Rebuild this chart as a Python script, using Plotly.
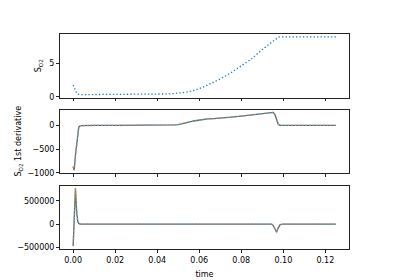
import plotly.graph_objects as go

# ---- data ----
time = [0.0, 0.0005, 0.0011, 0.0017, 0.0022, 0.0027, 0.0035, 0.005, 0.01, 0.02,
        0.03, 0.04, 0.045, 0.048, 0.05, 0.052, 0.054, 0.056, 0.058, 0.06,
        0.062, 0.064, 0.067, 0.07, 0.075,
        0.08, 0.085, 0.09, 0.0945, 0.0952, 0.096, 0.0968, 0.0976, 0.0984,
        0.0995, 0.105, 0.115, 0.125]

s_o2 = [1.75, 1.3, 0.8, 0.5, 0.37, 0.33, 0.32, 0.32, 0.32, 0.32,
        0.33, 0.37, 0.42, 0.48, 0.53, 0.6, 0.7, 0.83, 1.0, 1.22,
        1.48, 1.76, 2.2, 2.7, 3.6,
        4.65, 5.75, 7.15, 8.3, 8.5, 8.72, 8.9, 9.0, 9.05,
        9.05, 9.05, 9.05, 9.05]

ds_o2 = [-870, -945, -630, -400, -190, -30, -3, 0, 0, 0,
         1, 3, 6, 12, 20, 35, 55, 80, 100, 118,
         130, 138, 147, 155, 175,
         198, 220, 248, 272, 277, 230, 110, 25, 3,
         0, 0, 0, 0]

d2s_o2 = [-470000, 150000, 765000, 250000, 60000, 12000, 2000, 0, 0, 0,
          0, 200, 500, 3000, 6000, 8000, 10000, 10000, 9000, 7000,
          5000, 4000, 3500, 3500, 4000,
          4500, 5000, 5500, 2000, -30000, -110000, -171000, -80000, -15000,
          0, 0, 0, 0]

x_ticks = [0.0, 0.02, 0.04, 0.06, 0.08, 0.10, 0.12]
x_tick_labels = ["0.00", "0.02", "0.04", "0.06", "0.08", "0.10", "0.12"]

BLUE = "#1f77b4"
ORANGE = "#ff7f0e"
DOT = "1.3px,2.2px"


def pad_range(vals, frac=0.05):
    lo, hi = min(vals), max(vals)
    span = hi - lo
    return [lo - frac * span, hi + frac * span]


fig = go.Figure()

# panel 1
fig.add_trace(go.Scatter(x=time, y=s_o2, mode="lines",
                         line=dict(color=BLUE, width=1.3, dash=DOT),
                         xaxis="x", yaxis="y", showlegend=False))
# panel 2
fig.add_trace(go.Scatter(x=time, y=ds_o2, mode="lines",
                         line=dict(color=BLUE, width=1.3),
                         xaxis="x2", yaxis="y2", showlegend=False))
fig.add_trace(go.Scatter(x=time, y=ds_o2, mode="lines",
                         line=dict(color=ORANGE, width=1.3, dash=DOT),
                         xaxis="x2", yaxis="y2", showlegend=False))
# panel 3
fig.add_trace(go.Scatter(x=time, y=d2s_o2, mode="lines",
                         line=dict(color=BLUE, width=1.3),
                         xaxis="x3", yaxis="y3", showlegend=False))
fig.add_trace(go.Scatter(x=time, y=d2s_o2, mode="lines",
                         line=dict(color=ORANGE, width=1.3, dash=DOT),
                         xaxis="x3", yaxis="y3", showlegend=False))

xr = pad_range(time)
font = dict(family="DejaVu Sans", size=8, color="black")

axis_common = dict(showline=True, mirror=True, linecolor="#222", linewidth=0.9,
                   ticks="outside", ticklen=3, tickwidth=0.8, tickcolor="#222",
                   showgrid=False, zeroline=False, tickfont=font)

H = 215.0
h = 63.5
d1 = [(H - h) / H, 1.0]
d2 = [(H - 2 * h - 12) / H, (H - h - 12) / H]
d3 = [0.0, h / H]

fig.update_layout(
    width=400, height=280,
    margin=dict(l=60, r=51, t=34, b=31),
    plot_bgcolor="white", paper_bgcolor="white",
    font=font,
    xaxis=dict(domain=[0, 1], range=xr, tickvals=x_ticks, showticklabels=False,
               anchor="y", **axis_common),
    xaxis2=dict(domain=[0, 1], range=xr, tickvals=x_ticks, showticklabels=False,
                anchor="y2", **axis_common),
    xaxis3=dict(domain=[0, 1], range=xr, tickvals=x_ticks, ticktext=x_tick_labels,
                anchor="y3", automargin=False,
                title=dict(text="time", font=font, standoff=7),
                **axis_common),
    yaxis=dict(domain=d1, range=pad_range(s_o2), tickvals=[0, 5],
               anchor="x", title=dict(text="S<sub>O2</sub>", font=font, standoff=6),
               **axis_common),
    yaxis2=dict(domain=d2, range=pad_range(ds_o2), tickvals=[-1000, -500, 0],
                ticktext=["\u22121000", "\u2212500", "0"],
                anchor="x2", title=dict(text="S<sub>O2</sub> 1st derivative", font=font, standoff=4),
                **axis_common),
    yaxis3=dict(domain=d3, range=pad_range(d2s_o2), tickvals=[-500000, 0, 500000],
                ticktext=["\u2212500000", "0", "500000"],
                anchor="x3", **axis_common),
)

fig.write_html("out.html")
